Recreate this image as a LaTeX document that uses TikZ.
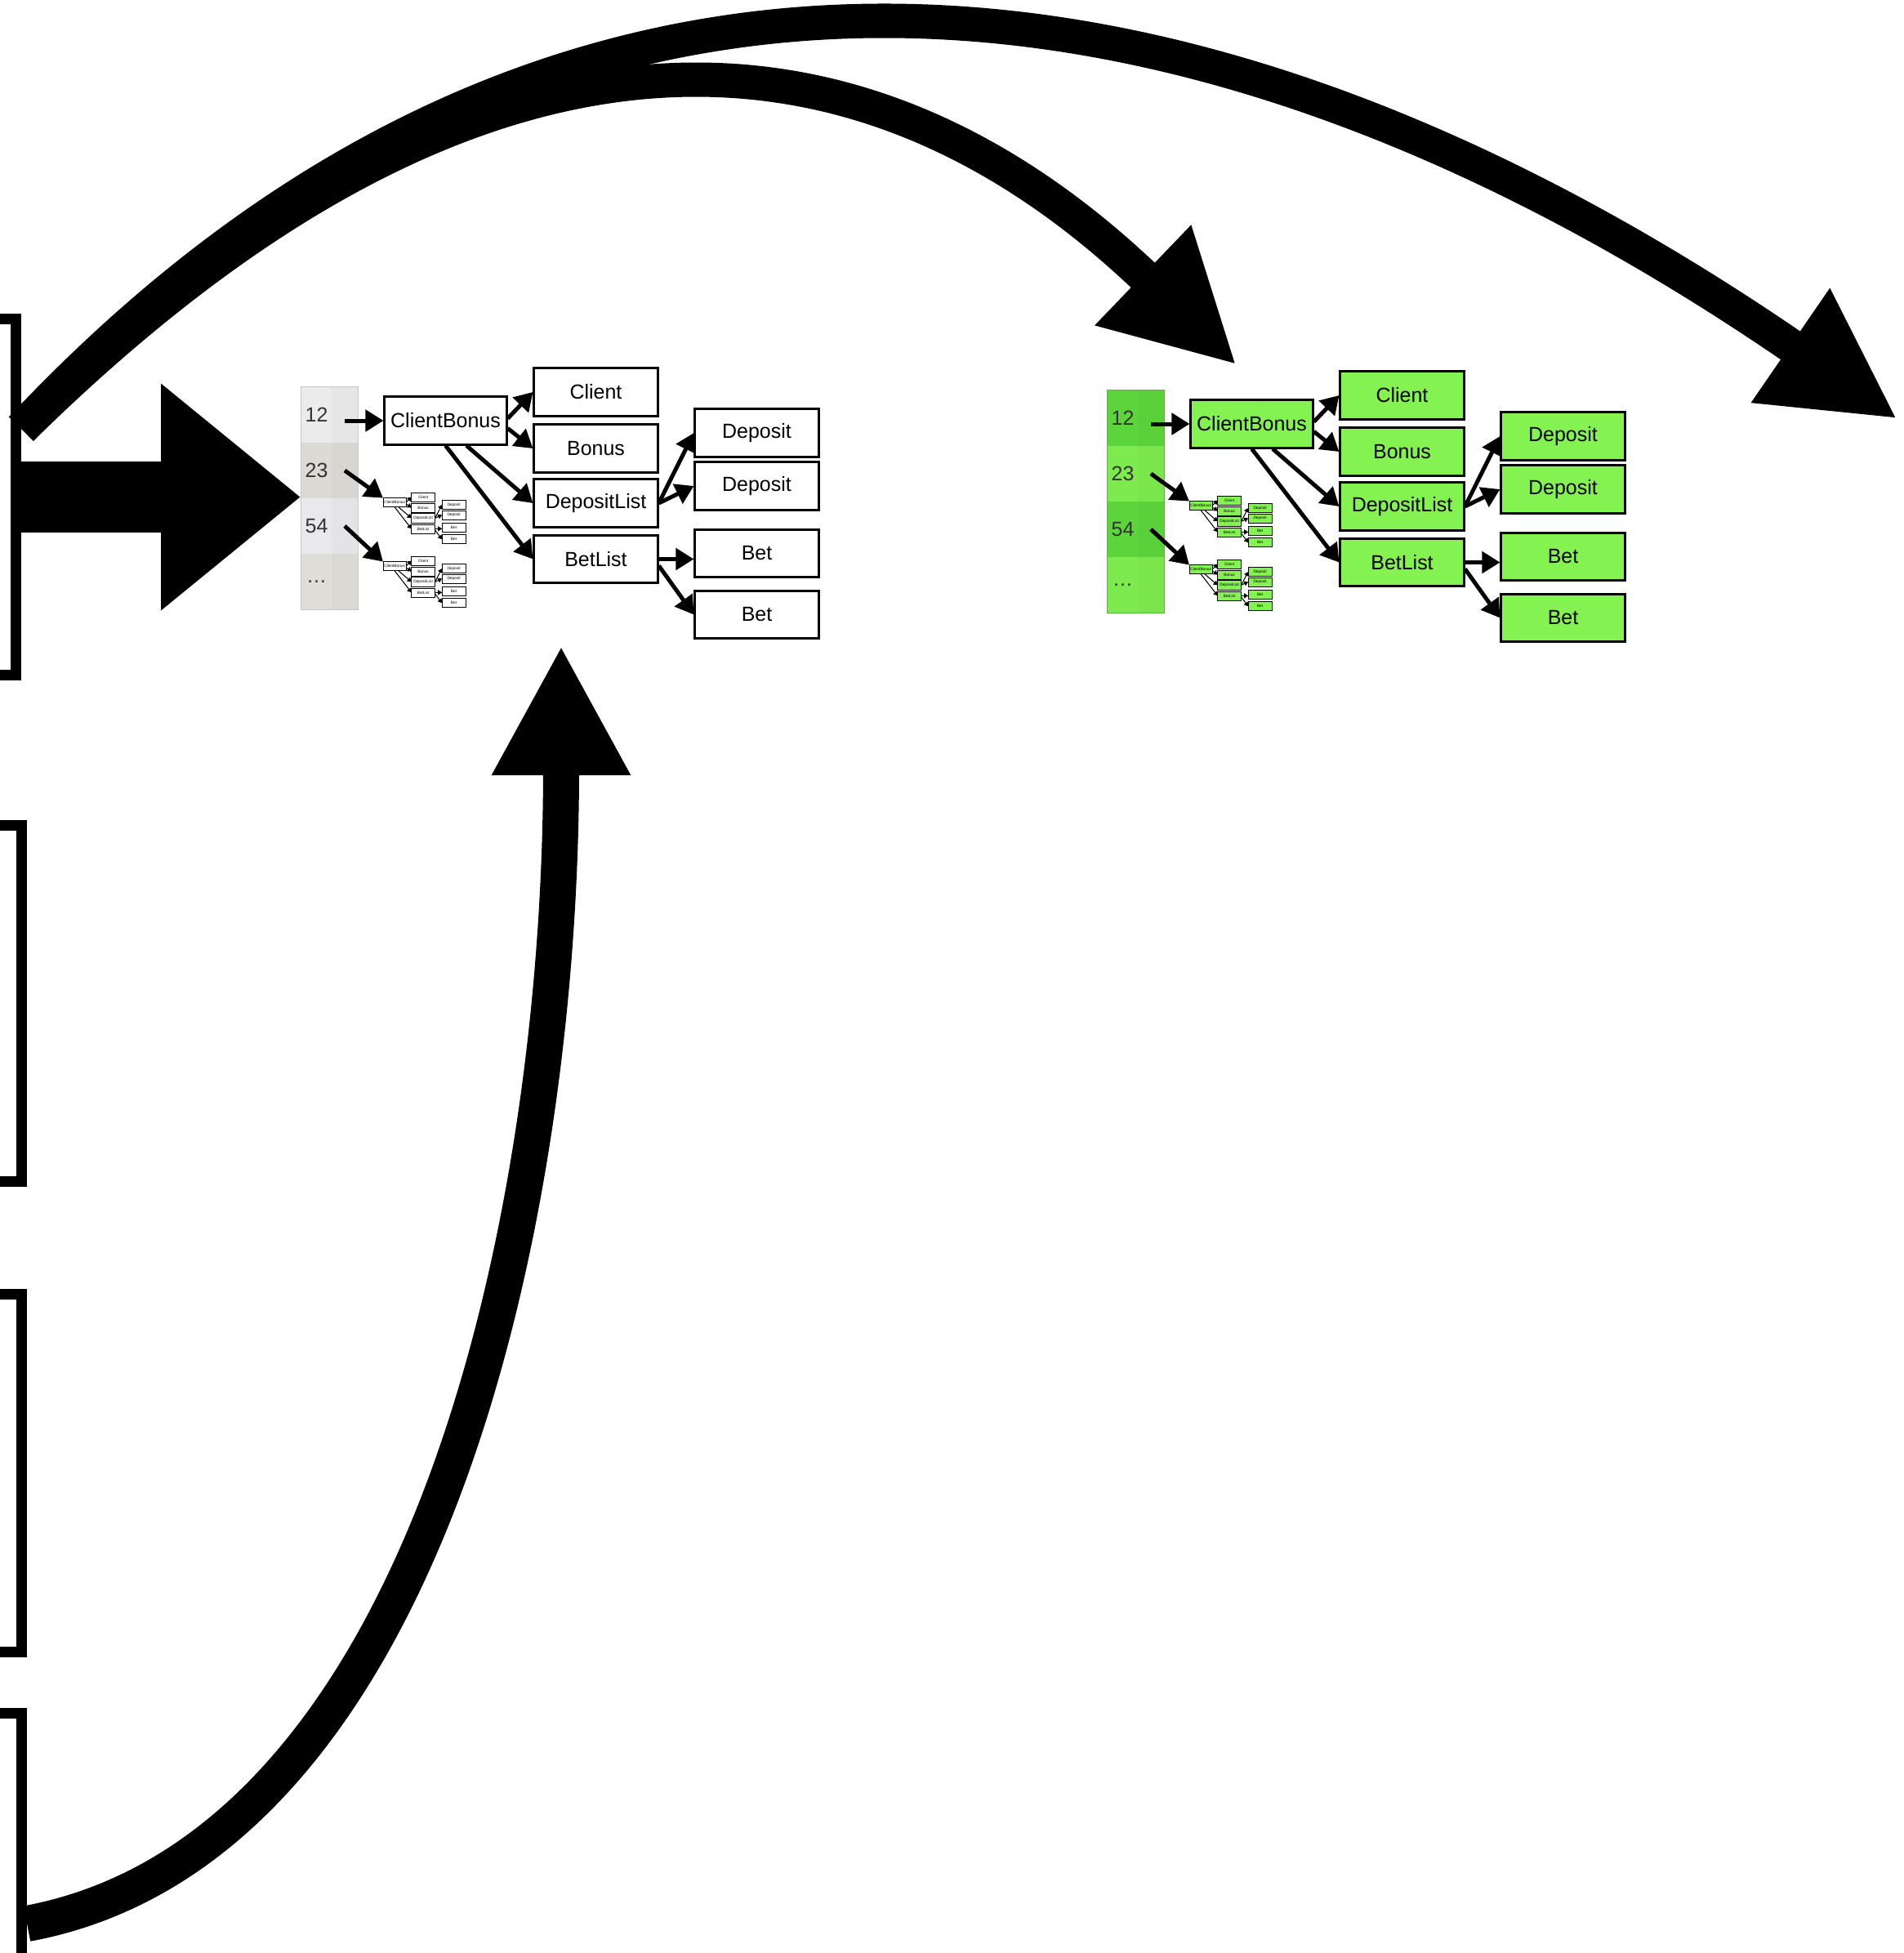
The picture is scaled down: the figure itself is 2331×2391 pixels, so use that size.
\documentclass[tikz,border=0pt]{standalone}
\usepackage{fontspec}
\setmainfont{Liberation Sans}
\usetikzlibrary{arrows.meta}

\definecolor{grayA}{HTML}{EBEBEB}
\definecolor{grayB}{HTML}{DCDAD5}
\definecolor{grayC}{HTML}{E9E9EC}
\definecolor{grayD}{HTML}{DFDDD8}
\definecolor{grayE}{HTML}{C8C8C8}
\definecolor{graybox}{HTML}{FFFFFF}
\definecolor{greenA}{HTML}{5CD43C}
\definecolor{greenB}{HTML}{7DEB4E}
\definecolor{greenC}{HTML}{5CD43C}
\definecolor{greenD}{HTML}{7DEB4E}
\definecolor{greenE}{HTML}{4DBE30}
\definecolor{greenbox}{HTML}{84F250}

\tikzset{
    leaf/.style={draw, line width=0.85pt, minimum width=1.51cm, minimum height=0.58cm,
        inner sep=0pt, font=\fontsize{7.1}{8.5}\selectfont},
    link/.style={line width=1.42pt, -{Triangle[length=0.22cm, width=0.26cm]}},
    cell/.style={minimum width=0.37cm, minimum height=0.68cm, inner sep=0pt,
        font=\fontsize{7.1}{8.5}\selectfont, text=black!80},
    slot/.style={draw, line width=3.7pt, minimum width=2.4cm, inner sep=0pt},
    bigarrow/.style={line width=0.42cm, -{Triangle[length=1.59cm, width=1.58cm]}},
    fatarrow/.style={line width=0.86cm, -{Triangle[length=1.71cm, width=2.66cm]}},
    pics/bonustree/.style={code={
        \node[leaf, fill=#1box, minimum width=1.49cm] (-cb) at (74.5, 64) {ClientBonus};
        \node[leaf, fill=#1box] (-client) at (258.5, 29) {Client};
        \node[leaf, fill=#1box] (-bonus) at (258.5, 98) {Bonus};
        \node[leaf, fill=#1box] (-dl) at (258.5, 165) {DepositList};
        \node[leaf, fill=#1box] (-bl) at (258.5, 233.5) {BetList};
        \node[leaf, fill=#1box] (-dep1) at (455.5, 79) {Deposit};
        \node[leaf, fill=#1box] (-dep2) at (455.5, 144) {Deposit};
        \node[leaf, fill=#1box] (-bet1) at (455.5, 226.5) {Bet};
        \node[leaf, fill=#1box] (-bet2) at (455.5, 301.5) {Bet};

        \draw[link] (-cb.2) to (-client.west);
        \draw[link] (-cb.-7) to (-bonus.west);
        \draw[link] (-cb.-50) to (-dl.west);
        \draw[link] (-cb.south) to (-bl.west);
        \draw[link] (-dl.east) to (-dep1.west);
        \draw[link] (-dl.east) to (-dep2.west);
        \draw[link] (-bl.east) to (-bl.east -| -bet1.west);
        \draw[link] (-bl.-6) to (-bet2.west);
    }},
    pics/bonusmap/.style={code={
        \node[cell, fill=#1A] (-r12) at (18.5, 34) {12};
        \node[cell, fill=#1A!98!black, minimum width=0.32cm] (-r12b) at (53, 34) {};
        \node[cell, fill=#1B] (-r23) at (18.5, 102) {23};
        \node[cell, fill=#1B!98!black, minimum width=0.32cm] (-r23b) at (53, 102) {};
        \node[cell, fill=#1C] (-r54) at (18.5, 170) {54};
        \node[cell, fill=#1C!98!black, minimum width=0.32cm] (-r54b) at (53, 170) {};
        \node[cell, fill=#1D] (-rdots) at (18.5, 238) {\dots};
        \node[cell, fill=#1D!98!black, minimum width=0.32cm] (-rdotsb) at (53, 238) {};
        \draw[#1E, line width=0.4pt] (-r12.north west) rectangle (-rdotsb.south east);

        \pic (-big) at (102, -23) {bonustree=#1};
        \begin{scope}[shift={(100, 129)}, scale=0.19, every node/.append style={transform shape},
            leaf/.append style={line width=0.2pt},
            link/.append style={line width=0.3pt, -{Triangle[length=0.05cm, width=0.06cm]}}]
            \pic (-s1) {bonustree=#1};
        \end{scope}
        \begin{scope}[shift={(100, 207)}, scale=0.19, every node/.append style={transform shape},
            leaf/.append style={line width=0.2pt},
            link/.append style={line width=0.3pt, -{Triangle[length=0.05cm, width=0.06cm]}}]
            \pic (-s2) {bonustree=#1};
        \end{scope}

        \draw[link] (-big-cb.west -| -r12b.center) to (-big-cb.west);
        \draw[link] (-r23b.center) to (-s1-cb.north west);
        \draw[link] (-r54b.center) to (-s2-cb.north west);
    }},
}

\begin{document}
\begin{tikzpicture}[x=0.01cm, y=-0.01cm]
        \path[use as bounding box, fill=white] (0, 0) rectangle (2331, 2391);

        \node[slot, minimum height=4.36cm] (box1) at (-100.5, 608.5) {};
        \node[slot, minimum height=4.35cm] (box2) at (-93.5, 1228.5) {};
        \node[slot, minimum height=4.37cm] (box3) at (-93.5, 1803.5) {};
        \node[slot, minimum height=4.36cm] (box4) at (-93.5, 2316) {};

        \pic (gm) at (369, 474) {bonusmap=gray};
        \pic (hm) at (1356, 478) {bonusmap=green};

        \coordinate (outtip) at (2323, 513);
        \coordinate (greentip) at (1514, 447);
        \coordinate (graytip) at (687, 790);

        \draw[fatarrow] (box1.east) to (box1.east -| gm-r12.west);
        \draw[bigarrow] ([yshift=0.835cm]box1.east) .. controls (820, -320) and (1708, 90) .. (outtip);
        \draw[bigarrow] ([yshift=0.835cm]box1.east) .. controls (600, -40) and (1064, 15) .. (greentip);
        \draw[bigarrow, line width=0.44cm] ([yshift=-0.39cm]box4.east) .. controls (520, 2265) and (687, 1500) .. (graytip);

    \end{tikzpicture}
\end{document}
